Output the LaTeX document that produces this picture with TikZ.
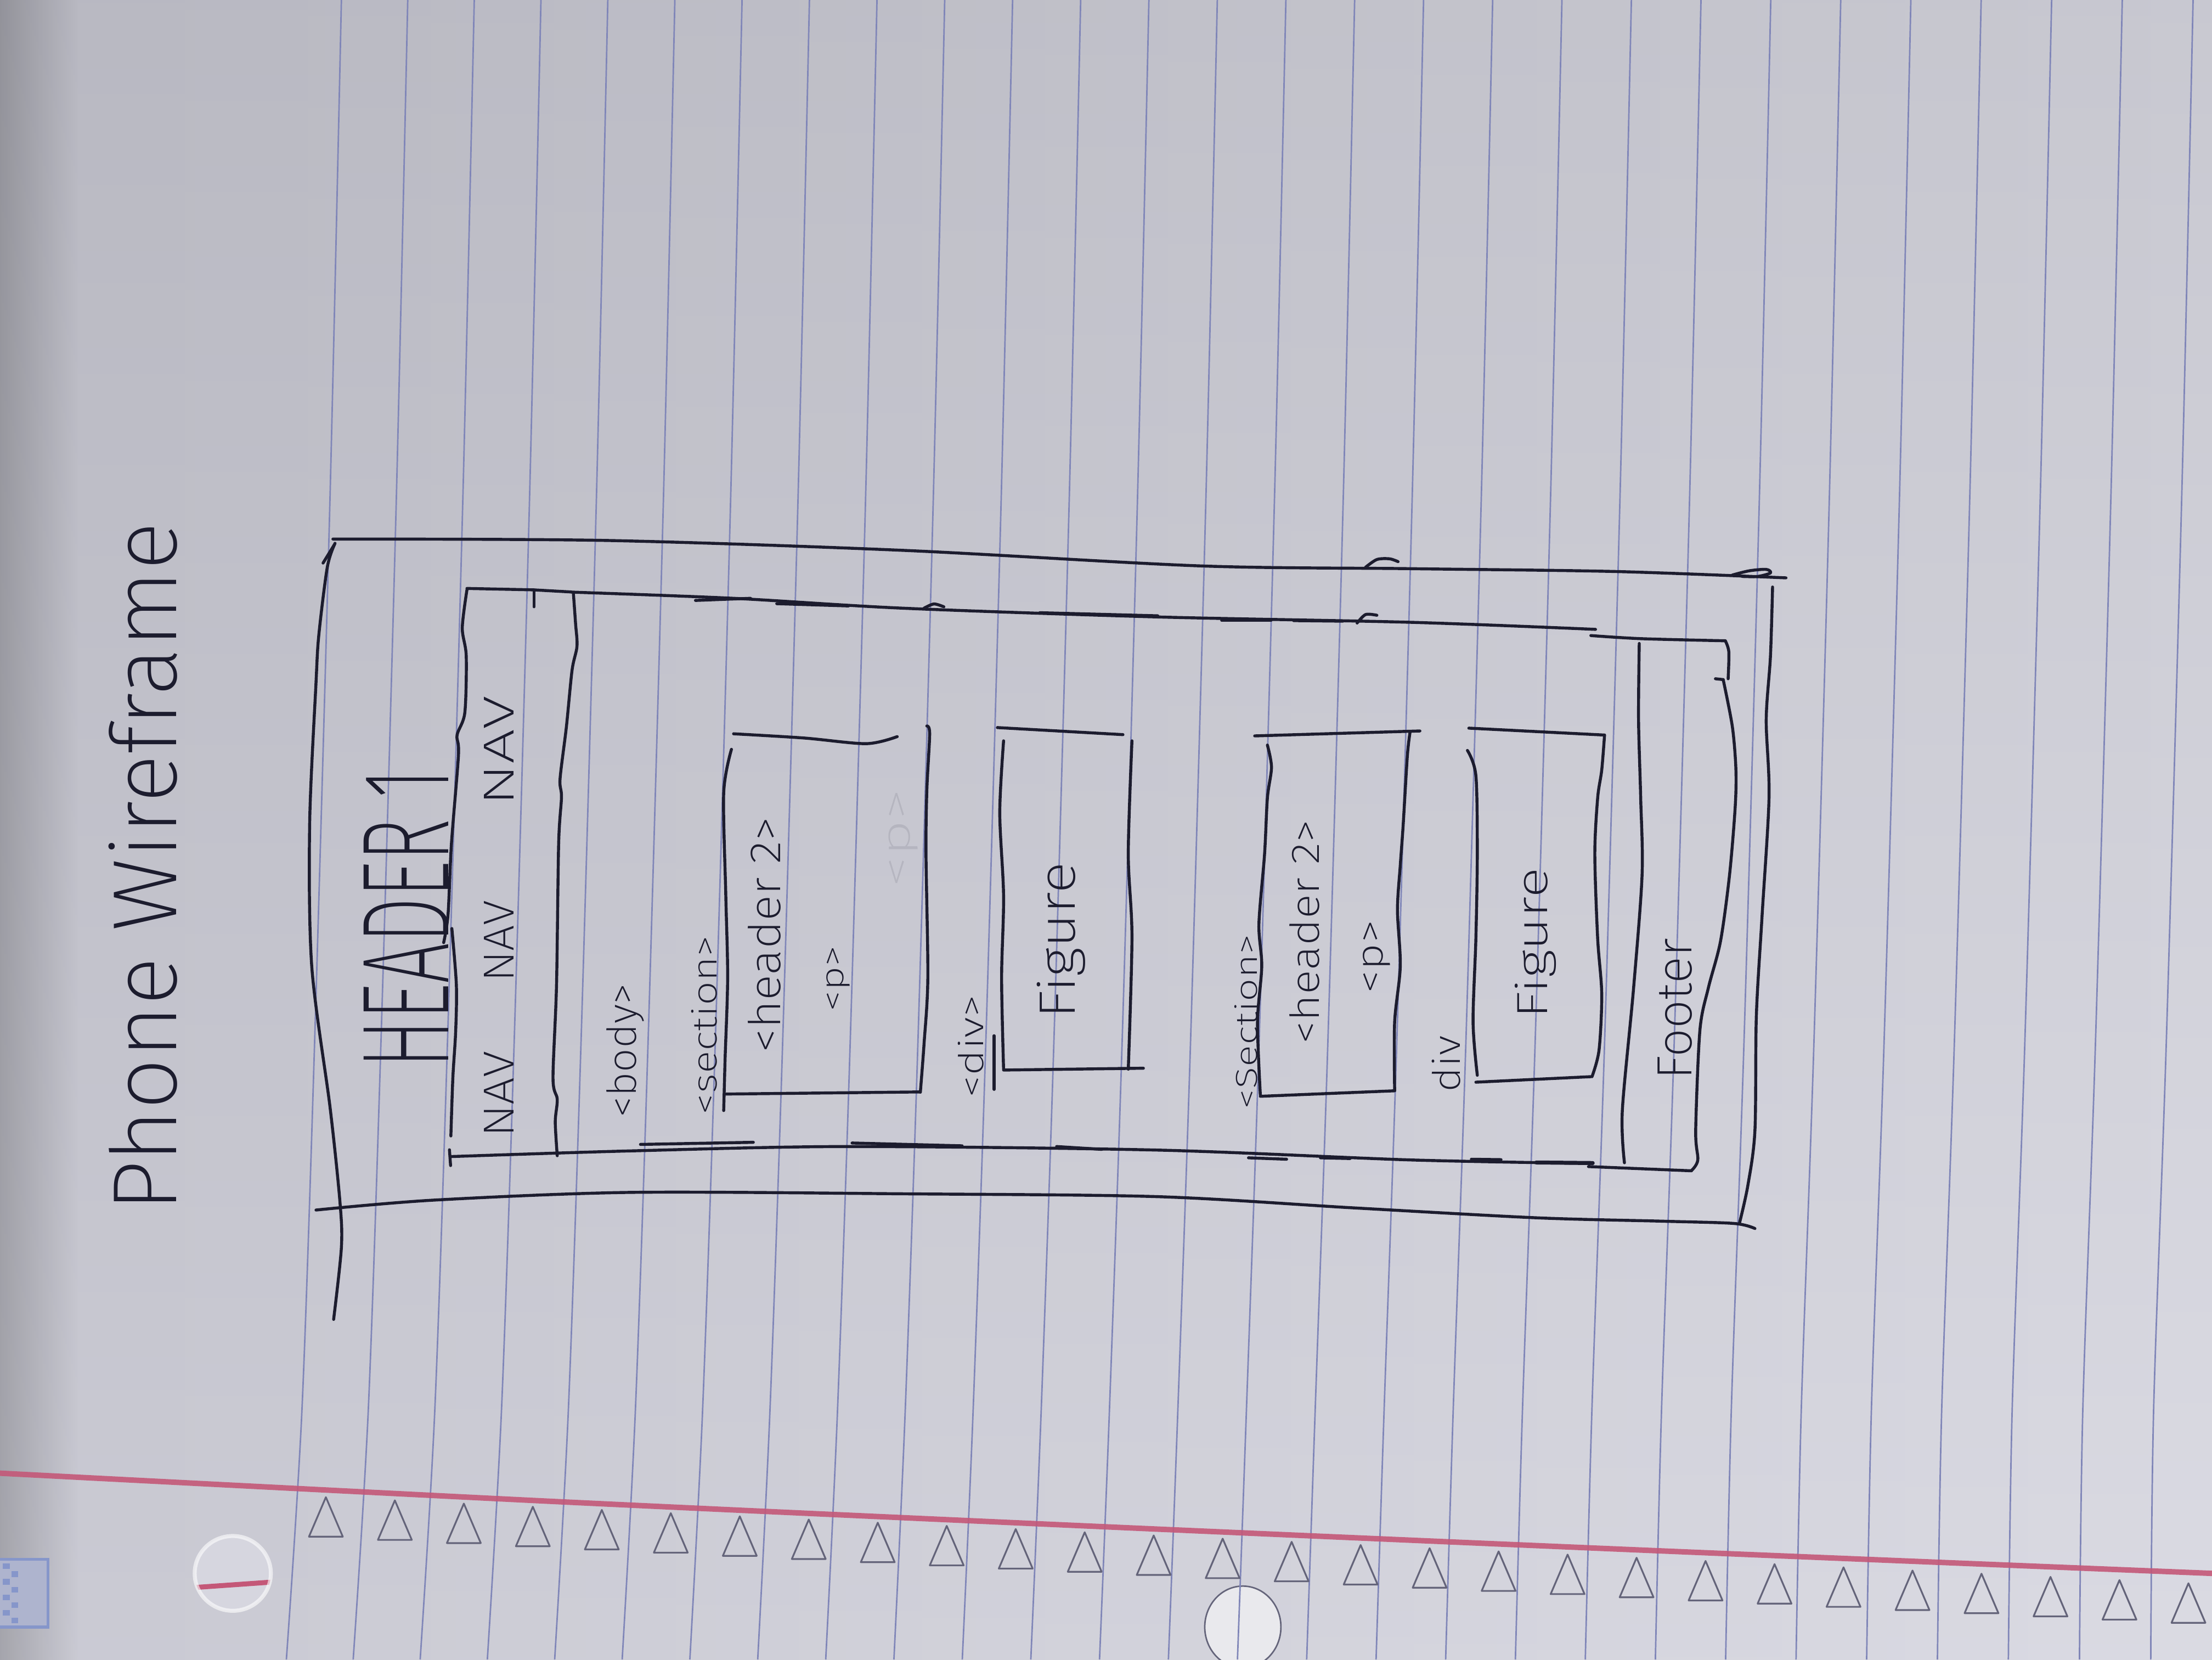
\documentclass[tikz,border=0pt]{standalone}
\usepackage{fontspec}
\usepackage{graphicx}
\setmainfont{Liberation Sans}
% thinnest available cut of Fira Sans for the pen lettering
\IfFontExistsTF{Fira Sans ExtraLight}
  {\newfontfamily\handfont{Fira Sans ExtraLight}}
  {\IfFontExistsTF{Fira Sans Light}
    {\newfontfamily\handfont{Fira Sans Light}}
    {\newfontfamily\handfont{Fira Sans}}}
\newlength\unitpx
\setlength\unitpx{0.1mm}
% text squeezed to a given length and height, like hand lettering
\newcommand\handtext[3]{\resizebox{#1\unitpx}{#2\unitpx}{\handfont #3}}

\definecolor{paperL}{RGB}{198,198,208}
\definecolor{paperR}{RGB}{216,216,225}
\definecolor{ruling}{RGB}{128,134,184}
\definecolor{margin}{RGB}{196,88,120}
\definecolor{ink}{RGB}{28,28,46}
\definecolor{printgray}{RGB}{100,100,122}
\definecolor{holefill}{RGB}{214,214,223}
\definecolor{logoblue}{RGB}{118,138,200}

\tikzset{
  pen/.style={draw=ink, line width=0.6pt, line cap=round, line join=round},
  ruled/.style={draw=ruling, line width=0.3pt},
  tri/.style={draw=printgray, line width=0.35pt, line join=round},
  handlabel/.style={rotate=90, anchor=base, inner sep=0pt, text=ink},
}

\begin{document}
\begin{tikzpicture}[x=0.1mm, y=-0.1mm]
\useasboundingbox (0,0) rectangle (1568,1176);

% ---------- paper ----------
\shade[left color=paperL, right color=paperR] (0,0) rectangle (1568,1176);
\shade[left color=black!20!paperL, right color=paperL] (0,0) rectangle (55,1176);
\shade[top color=black, bottom color=white, opacity=0.07] (0,0) rectangle (1568,1176);

% punched holes (the page below shows through)
\fill[holefill] (165,1115) ellipse [x radius=2.7mm, y radius=2.65mm];
\begin{scope}
  \clip (165,1115) ellipse [x radius=2.7mm, y radius=2.65mm];
  \draw[margin, line width=1pt] (138,1125) -- (195,1121);
\end{scope}
\draw[white, line width=0.8pt, opacity=0.6] (165,1115) ellipse [x radius=2.7mm, y radius=2.65mm];
\fill[holefill!55!white] (881,1153) ellipse [x radius=2.7mm, y radius=2.9mm];
\draw[printgray, line width=0.3pt] (881,1153) ellipse [x radius=2.7mm, y radius=2.9mm];

% blue maker's mark at the edge
\fill[logoblue!30!paperL] (-4,1105) rectangle (34,1153);
\draw[logoblue!80!paperL, line width=0.6pt] (-4,1105) rectangle (34,1153);
\foreach \k in {0,...,7} {
  \pgfmathsetmacro\lx{2+mod(\k,2)*6}
  \pgfmathsetmacro\ly{1108+\k*5.5}
  \fill[logoblue!80!paperL] (\lx,\ly) rectangle ++(5,4);
}

% ruled lines
\foreach \i in {0,...,27} {
  \pgfmathsetmacro\xb{214 + 46.97*\i + 0.0609*\i*\i}
  \pgfmathsetmacro\xe{-11 + 9*\i/27}
  \draw[ruled] plot[smooth] coordinates {(\xb+28,0) (\xb+20,350) (\xb+9,739) (\xb,1000) (\xb+\xe,1176)};
}

% red margin line
\draw[margin, line width=1.1pt, opacity=0.9] plot[smooth] coordinates {(0,1044) (392,1064) (784,1082) (1176,1099) (1568,1115)};

% printed triangles along the margin
\foreach \i in {0,...,27} {
  \pgfmathsetmacro\tx{231 + 48.9*\i}
  \pgfmathsetmacro\ty{1061 + 61*\i/27}
  \draw[tri] (\tx,\ty) -- ++(12,28) -- ++(-24,0) -- cycle;
}

% ---------- phone frame ----------
\draw[pen] plot[smooth] coordinates {(236,382) (430,383) (640,390) (850,401) (1000,403) (1145,405) (1266,409.5)};
\draw[pen] plot[smooth] coordinates {(968,402) (976,396.5) (985,396) (991,398)};
\draw[pen] plot[smooth] coordinates {(1228,407.5) (1240,404.5) (1252,403.5) (1255,406) (1246,408.5) (1235,408.5)};
\draw[pen] plot[smooth] coordinates {(237.5,385) (232,402) (226,450) (224,484) (219.5,584) (221,685) (234,785) (241,852) (242,884) (236.5,935)};
\draw[pen] (229,399) -- (237,386);
\draw[pen] plot[smooth] coordinates {(224,857.5) (307,850.5) (447,845) (640,846) (820,848) (960,856) (1089,863) (1178,865.4) (1229,867) (1244,870.6)};
\draw[pen] plot[smooth] coordinates {(1256.5,416) (1255,465) (1252,510) (1254,565) (1249,650) (1245,720) (1244,801) (1239,840) (1233,867)};

% ---------- header / nav bar ----------
\draw[pen] (331,417) -- (378,418) -- (405,419.5);
\draw[pen] (378.5,418) -- (378.5,430);
\draw[pen] plot[smooth] coordinates {(331,418) (327.7,445) (330.5,465) (329.5,505) (324,521) (325,535) (320,598) (317.6,648) (314.5,668)};
\draw[pen] plot[smooth] coordinates {(320.3,658) (323.5,698) (323,731) (321,764) (319.6,805)};
\draw[pen] (318.6,814.8) -- (319.4,826);
\draw[pen] plot[smooth] coordinates {(406.5,421) (408,442) (409,458) (405.5,475) (401.5,515) (397,552) (398,565) (396,598) (394.5,698) (392,764) (395,779) (393.6,795) (395,819)};

% ---------- body (dashed) ----------
\draw[pen] plot[smooth] coordinates {(405,419.6) (520,424) (640,431) (820,437.2) (1000,441) (1131,446)};
\draw[pen] (493,425.5) -- (532,424);
\draw[pen] (550.6,427.8) -- (601.5,429.4);
\draw[pen] plot[smooth] coordinates {(655,431) (662,428) (669,430)};
\draw[pen] (737,434.2) -- (820.7,436.4);
\draw[pen] (866,439.6) -- (901,439.6);
\draw[pen] (917,439.8) -- (952,440.2);
\draw[pen] plot[smooth] coordinates {(962,441.5) (968,435.5) (976,436)};
\draw[pen] plot[smooth] coordinates {(320,819.6) (447,815.6) (600,812.5) (820,815) (1000,822) (1129,824.5)};
\draw[pen] (454,811) -- (534,809.5);
\draw[pen] (604,810) -- (682,812);
\draw[pen] (749,812.5) -- (781,814.5);
\draw[pen] (885,820.5) -- (912,821.5);
\draw[pen] (936,820.5) -- (957,821);
\draw[pen] (1043,821.5) -- (1064,821.8);
\draw[pen, line width=0.8pt] (1089,823.8) -- (1129,824.2);

% ---------- first section ----------
\draw[pen] plot[smooth] coordinates {(520,520) (570,523) (614,527) (636,522)};
\draw[pen] plot[smooth] coordinates {(657,514.5) (659,520) (657,560) (656.4,605) (657.7,693) (655,740) (652.4,774)};
\draw[pen] plot[smooth] coordinates {(518.5,531) (513,562) (514.5,635) (515.8,693) (514,750) (513,787)};
\draw[pen] (514.5,775.3) -- (652.4,773.8);

% first div
\draw[pen] (707,515.6) -- (796,520.6);
\draw[pen] plot[smooth] coordinates {(711.4,525) (708.7,576) (711.4,635) (710,693) (711.4,757.7)};
\draw[pen] (704.7,734) -- (704.7,772);
\draw[pen] plot[smooth] coordinates {(802.4,525) (799.8,605) (802.4,664) (799.8,757.7)};
\draw[pen] (711.4,758.3) -- (810.5,757);

% ---------- second section ----------
\draw[pen] (889.4,521.5) -- (1006.5,518);
\draw[pen] plot[smooth] coordinates {(898.4,528) (901.3,543.7) (898.4,565.6) (896.4,605.2) (892.4,654.8) (894.4,684.6) (891.4,724.3) (893.4,775.9)};
\draw[pen] plot[smooth] coordinates {(999.5,519) (997.6,535.8) (994.6,585.4) (992.6,613.2) (990.6,644.9) (992.6,684.6) (988.6,724.3) (988.6,772.9)};
\draw[pen] (893.4,776.9) -- (988.6,773);

% second div
\draw[pen] (1041.2,516) -- (1137.4,520.9);
\draw[pen] plot[smooth] coordinates {(1040.2,531.8) (1046.2,549.7) (1047.2,605.2) (1046.2,664.8) (1044.2,724.3) (1047.2,762)};
\draw[pen] plot[smooth] coordinates {(1137.4,520.9) (1135.4,545.7) (1132.5,565.6) (1130.5,605.2) (1132.5,664.8) (1135.4,704.4) (1133.5,744.1) (1128.5,763)};
\draw[pen] (1046.2,766.9) -- (1127.5,763);

% ---------- footer ----------
\draw[pen] plot[smooth] coordinates {(1127.7,450.4) (1163.4,452.6) (1223,454.1)};
\draw[pen] plot[smooth] coordinates {(1223,454.1) (1225.5,462) (1225,481)};
\draw[pen] (1216,481) -- (1221.5,481.6);
\draw[pen] plot[smooth] coordinates {(1221.5,481.6) (1228,515) (1230.5,545) (1230,572) (1226,620) (1219.6,667) (1211,700) (1205,730) (1202,801) (1203.5,822) (1199,829.5)};
\draw[pen] plot[smooth] coordinates {(1162,456) (1161.5,510) (1163,565) (1164,620) (1158,700) (1150,787) (1151.5,824)};
\draw[pen] (1126,826.7) -- (1199,829.7);

% ---------- lettering ----------
\node[handlabel] (title) at (125,614.5) {\handtext{489}{48}{Phone Wireframe}};
\node[handlabel] (hdr) at (318,651) {\handtext{212}{60}{HEADER 1}};
\node[handlabel] (nav1) at (364,775.5) {\handtext{61}{21}{NAV}};
\node[handlabel] (nav2) at (364,667) {\handtext{58}{21}{NAV}};
\node[handlabel] (nav3) at (364,532) {\handtext{78}{21}{NAV}};
\node[handlabel] (bodytag) at (451,744.5) {\handtext{95}{21}{<body>}};
\node[handlabel] (sectA) at (508,726.5) {\handtext{127}{18}{<section>}};
\node[handlabel] (headA) at (553,662.5) {\handtext{167}{23}{<header 2>}};
\node[handlabel] (parA) at (598,693.5) {\handtext{47}{12}{<p>}};
\node[handlabel, opacity=0.1] (ghost) at (645,594) {\handtext{70}{15}{<p>}};
\node[handlabel] (divA) at (697,741.5) {\handtext{73}{18}{<div>}};
\node[handlabel] (figA) at (762,666.5) {\handtext{111}{27}{Figure}};
\node[handlabel] (sectB) at (891,724) {\handtext{124}{16}{<Section>}};
\node[handlabel] (headB) at (935,660.5) {\handtext{159}{21}{<header 2>}};
\node[handlabel] (parB) at (980,678) {\handtext{52}{14}{<p>}};
\node[handlabel] (divB) at (1035,754) {\handtext{40}{20}{div}};
\node[handlabel] (figB) at (1097,668.5) {\handtext{107}{23}{Figure}};
\node[handlabel] (foot) at (1199,715) {\handtext{100}{24}{Footer}};
\end{tikzpicture}
\end{document}
